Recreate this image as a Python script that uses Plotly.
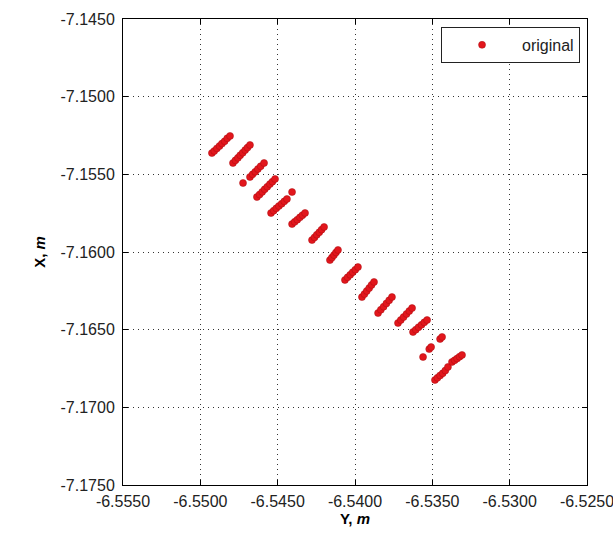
import plotly.graph_objects as go

# Y (east) coordinate, m  -> horizontal axis
y_east = [
    -6.54925, -6.54910, -6.54893, -6.54876, -6.54860, -6.54843, -6.54826, -6.54808,
    -6.54789, -6.54773, -6.54757, -6.54742, -6.54726, -6.54710, -6.54695, -6.54679,
    -6.54724, -6.54679, -6.54662, -6.54645, -6.54628, -6.54610, -6.54588,
    -6.54634, -6.54617, -6.54600, -6.54584, -6.54567, -6.54550, -6.54534, -6.54517,
    -6.54543, -6.54526, -6.54509, -6.54492, -6.54474, -6.54457, -6.54440, -6.54407,
    -6.54407, -6.54390, -6.54373, -6.54356, -6.54340, -6.54323,
    -6.54278, -6.54262, -6.54247, -6.54231, -6.54216, -6.54200,
    -6.54162, -6.54149, -6.54136, -6.54123, -6.54110,
    -6.54065, -6.54048, -6.54031, -6.54015, -6.53998, -6.53981,
    -6.53955, -6.53939, -6.53924, -6.53908, -6.53893, -6.53877,
    -6.53851, -6.53833, -6.53815, -6.53797, -6.53779, -6.53761,
    -6.53722, -6.53704, -6.53686, -6.53667, -6.53649, -6.53631,
    -6.53625, -6.53607, -6.53589, -6.53570, -6.53552, -6.53534,
    -6.53560, -6.53520, -6.53508, -6.53450, -6.53437,
    -6.53483, -6.53467, -6.53450, -6.53433, -6.53416, -6.53399, -6.53373, -6.53356,
    -6.53340, -6.53324, -6.53308,
]

# X (north) coordinate, m -> vertical axis
x_north = [
    -7.15363, -7.15350, -7.15333, -7.15318, -7.15302, -7.15287, -7.15268, -7.15253,
    -7.15427, -7.15410, -7.15394, -7.15377, -7.15361, -7.15344, -7.15328, -7.15311,
    -7.15556, -7.15517, -7.15500, -7.15484, -7.15466, -7.15448, -7.15427,
    -7.15646, -7.15630, -7.15613, -7.15596, -7.15580, -7.15563, -7.15547, -7.15530,
    -7.15749, -7.15734, -7.15719, -7.15704, -7.15689, -7.15674, -7.15659, -7.15614,
    -7.15820, -7.15806, -7.15792, -7.15777, -7.15763, -7.15749,
    -7.15923, -7.15906, -7.15889, -7.15873, -7.15856, -7.15839,
    -7.16052, -7.16036, -7.16020, -7.16003, -7.15987,
    -7.16180, -7.16163, -7.16147, -7.16130, -7.16114, -7.16097,
    -7.16290, -7.16271, -7.16251, -7.16232, -7.16212, -7.16193,
    -7.16393, -7.16372, -7.16352, -7.16331, -7.16311, -7.16290,
    -7.16457, -7.16438, -7.16419, -7.16399, -7.16380, -7.16361,
    -7.16515, -7.16500, -7.16484, -7.16469, -7.16453, -7.16438,
    -7.16676, -7.16625, -7.16612, -7.16560, -7.16547,
    -7.16824, -7.16810, -7.16795, -7.16781, -7.16763, -7.16740, -7.16708, -7.16697,
    -7.16686, -7.16674, -7.16663,
]

x_tick_vals = [-6.555, -6.550, -6.545, -6.540, -6.535, -6.530, -6.525]
x_tick_text = ["-6.5550", "-6.5500", "-6.5450", "-6.5400", "-6.5350", "-6.5300", "-6.5250"]
y_tick_vals = [-7.175, -7.170, -7.165, -7.160, -7.155, -7.150, -7.145]
y_tick_text = ["-7.1750", "-7.1700", "-7.1650", "-7.1600", "-7.1550", "-7.1500", "-7.1450"]

fig = go.Figure()
fig.add_trace(go.Scatter(
    x=y_east, y=x_north, mode="markers", name="original",
    marker=dict(size=7, color="rgb(226,22,28)", line=dict(width=0.5, color="rgb(170,12,16)")),
))

font_family = "Liberation Sans, Arial, sans-serif"
axis_common = dict(
    showline=True, linecolor="black", linewidth=1, mirror="ticks",
    ticks="inside", ticklen=5, tickcolor="black",
    showgrid=True, gridcolor="#333", gridwidth=1, griddash="1px,4px",
    zeroline=False, tickfont=dict(family=font_family, size=16, color="#222"),
    automargin=False, ticklabeloverflow="allow",
)

fig.update_layout(
    width=613, height=535,
    margin=dict(l=123, r=26, t=19, b=50),
    paper_bgcolor="white", plot_bgcolor="white",
    font=dict(family=font_family, size=16, color="black"),
    showlegend=True,
    legend=dict(
        x=0.985, y=0.983, xanchor="right", yanchor="top",
        bordercolor="#222", borderwidth=1, bgcolor="white",
        font=dict(family=font_family, size=16, color="#222"),
        itemwidth=70,
    ),
    xaxis=dict(
        range=[-6.555, -6.525], tickvals=x_tick_vals, ticktext=x_tick_text,
        title=dict(text="<b>Y, <i>m</i></b>", standoff=4, font=dict(size=15)),
        ticklabelstandoff=2,
        **axis_common,
    ),
    yaxis=dict(
        range=[-7.175, -7.145], tickvals=y_tick_vals, ticktext=y_tick_text,
        title=dict(text="<b>X, <i>m</i></b>", standoff=11, font=dict(size=15)),
        ticklabelstandoff=4,
        **axis_common,
    ),
)

fig.write_html(
    "out.html",
    config={"displayModeBar": False},
    post_script="document.body.style.margin='0';document.body.style.overflow='hidden';",
)
